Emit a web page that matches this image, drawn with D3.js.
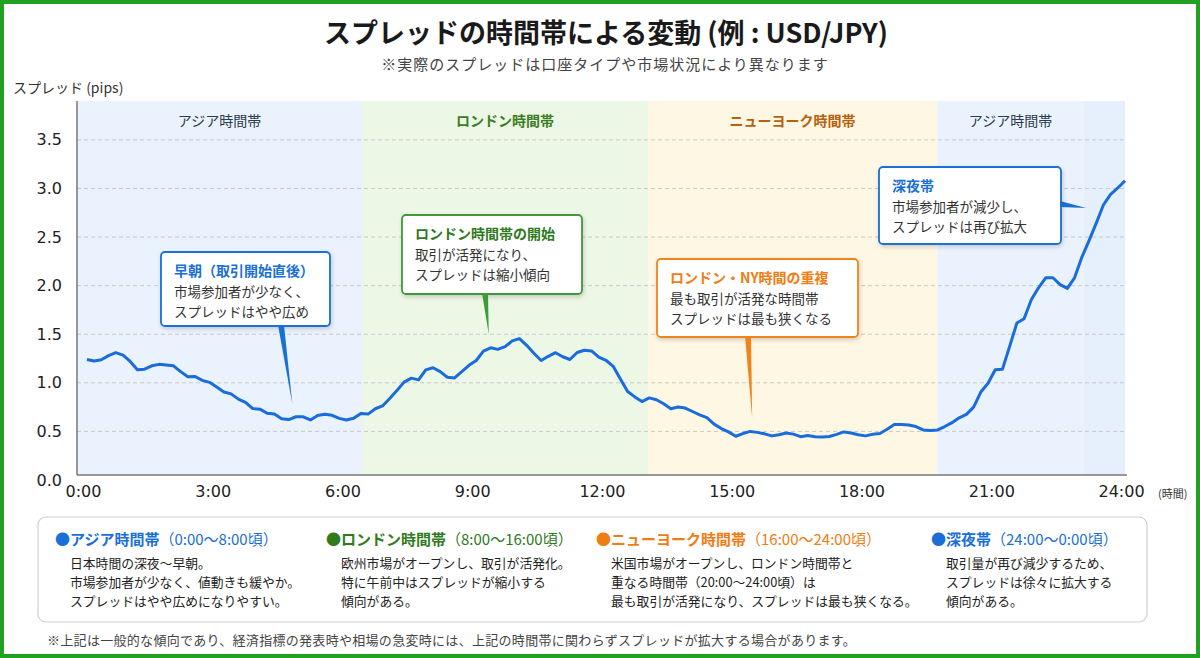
<!DOCTYPE html>
<html>
<head>
<meta charset="utf-8">
<title>スプレッドの時間帯による変動</title>
<script src="https://cdn.jsdelivr.net/npm/d3@7"></script>
<style>
body { margin: 0; background: #fff; }
svg { display: block; font-family: "Noto Sans CJK JP", "Noto Sans", sans-serif; }
.tick text { font-family: "DejaVu Sans", sans-serif; font-size: 16px; fill: #222; }
</style>
</head>
<body>
<script>
// spread every 10 minutes, 0:00 .. 24:00
var spread = [
  1.24, 1.225, 1.238, 1.28, 1.31, 1.285, 1.22, 1.135, 1.14, 1.175, 1.19, 1.183,
  1.175, 1.115, 1.062, 1.065, 1.025, 1.005, 0.957, 0.905, 0.886, 0.832, 0.80, 0.735,
  0.729, 0.687, 0.678, 0.63, 0.622, 0.651, 0.65, 0.618, 0.664, 0.677, 0.666, 0.634,
  0.617, 0.635, 0.685, 0.678, 0.733, 0.762, 0.838, 0.92, 1.007, 1.048, 1.03, 1.133,
  1.155, 1.115, 1.057, 1.05, 1.115, 1.18, 1.23, 1.327, 1.36, 1.344, 1.372, 1.431,
  1.455, 1.386, 1.305, 1.23, 1.273, 1.31, 1.268, 1.24, 1.312, 1.335, 1.328, 1.265,
  1.232, 1.17, 1.04, 0.91, 0.855, 0.807, 0.845, 0.826, 0.785, 0.734, 0.752, 0.74,
  0.705, 0.67, 0.642, 0.575, 0.529, 0.495, 0.45, 0.478, 0.50, 0.49, 0.475, 0.454,
  0.466, 0.484, 0.472, 0.446, 0.457, 0.445, 0.443, 0.448, 0.47, 0.495, 0.483, 0.465,
  0.454, 0.47, 0.479, 0.522, 0.57, 0.57, 0.566, 0.55, 0.515, 0.51, 0.515, 0.55,
  0.59, 0.64, 0.675, 0.75, 0.905, 0.995, 1.135, 1.14, 1.375, 1.615, 1.66, 1.855,
  1.978, 2.081, 2.081, 2.01, 1.972, 2.08, 2.29, 2.46, 2.64, 2.83, 2.94, 3.005, 3.08
];
var hours = spread.map(function(d, i) { return i / 6; });

var xTicks = [0, 3, 6, 9, 12, 15, 18, 21, 24];
var yTicks = [0, 0.5, 1.0, 1.5, 2.0, 2.5, 3.0, 3.5];

var bandNames = ["アジア時間帯", "ロンドン時間帯", "ニューヨーク時間帯", "アジア時間帯", ""];
var bandStart = [-0.23, 6.36, 12.97, 19.66, 23.05];
var bandEnd   = [6.36, 12.97, 19.66, 23.05, 24];
var bandKind  = ["asia", "london", "ny", "asia", "night"];

var noteTitles = ["早朝（取引開始直後）", "ロンドン時間帯の開始", "ロンドン・NY時間の重複", "深夜帯"];
var noteLines = [
  ["市場参加者が少なく、", "スプレッドはやや広め"],
  ["取引が活発になり、", "スプレッドは縮小傾向"],
  ["最も取引が活発な時間帯", "スプレッドは最も狭くなる"],
  ["市場参加者が減少し、", "スプレッドは再び拡大"]
];
var noteHour  = [4.75, 9.29, 15.38, 23.1];
var noteValue = [0.78, 1.50, 0.64, 2.80];
var noteKind  = ["asia", "london", "ny", "asia"];

var legendTitles = ["アジア時間帯", "ロンドン時間帯", "ニューヨーク時間帯", "深夜帯"];
var legendPeriods = ["（0:00〜8:00頃）", "（8:00〜16:00頃）", "（16:00〜24:00頃）", "（24:00〜0:00頃）"];
var legendLines = [
  ["日本時間の深夜〜早朝。", "市場参加者が少なく、値動きも緩やか。", "スプレッドはやや広めになりやすい。"],
  ["欧州市場がオープンし、取引が活発化。", "特に午前中はスプレッドが縮小する", "傾向がある。"],
  ["米国市場がオープンし、ロンドン時間帯と", "重なる時間帯（20:00〜24:00頃）は", "最も取引が活発になり、スプレッドは最も狭くなる。"],
  ["取引量が再び減少するため、", "スプレッドは徐々に拡大する", "傾向がある。"]
];
var legendKind = ["asia", "london", "ny", "asia"];

// styles
var bandFill  = { asia: "#eaf3fd", london: "#edf7e6", ny: "#fef7e3", night: "#e6f0fc" };
var bandText  = { asia: "#2b3a4c", london: "#3b7d23", ny: "#b5620e", night: "#2b3a4c" };
var accent    = { asia: "#1a6fd6", london: "#3f9a3a", ny: "#f0841c" };
var noteTitleColor = { asia: "#1a6fd6", london: "#2f7a1d", ny: "#f07c12" };
var legendColor = { asia: "#1a6fd6", london: "#2f7a1d", ny: "#f07c12" };

var width = 1200, height = 658;
var plotLeft = 77, plotRight = 1125, plotTop = 101, plotBottom = 475;

var svg = d3.select("body").append("svg")
    .attr("width", width)
    .attr("height", height);

var defs = svg.append("defs");
var sh = defs.append("filter").attr("id", "shadow").attr("x", "-10%").attr("y", "-10%").attr("width", "130%").attr("height", "140%");
sh.append("feDropShadow").attr("dx", 1).attr("dy", 2).attr("stdDeviation", 2).attr("flood-color", "#000").attr("flood-opacity", 0.18);

// outer frame
svg.append("rect").attr("x", 2).attr("y", 2).attr("width", width - 4).attr("height", height - 4)
    .attr("fill", "#fff").attr("stroke", "#22a022").attr("stroke-width", 4);

var x = d3.scaleLinear().domain([-0.23, 24]).range([plotLeft, plotRight]);
var y = d3.scaleLinear().domain([0, 3.9]).range([480, 101]);

// title
svg.append("text").attr("x", 606).attr("y", 43).attr("text-anchor", "middle")
    .style("font-size", "27px").style("font-weight", "bold").attr("fill", "#1a1a1a")
    .text("スプレッドの時間帯による変動 (例 : USD/JPY)");
svg.append("text").attr("x", 605).attr("y", 70).attr("text-anchor", "middle")
    .style("font-size", "15px").style("letter-spacing", "1px").attr("fill", "#444")
    .text("※実際のスプレッドは口座タイプや市場状況により異なります");
svg.append("text").attr("x", 13).attr("y", 93)
    .style("font-size", "14px").attr("fill", "#333").text("スプレッド (pips)");

// bands
var bands = bandNames.map(function(n, i) { return { name: n, s: bandStart[i], e: bandEnd[i], k: bandKind[i] }; });
svg.append("g").selectAll("rect").data(bands).enter().append("rect")
    .attr("x", function(d) { return x(d.s); })
    .attr("y", plotTop)
    .attr("width", function(d) { return x(d.e) - x(d.s); })
    .attr("height", plotBottom - plotTop)
    .attr("fill", function(d) { return bandFill[d.k]; });
svg.append("g").selectAll("text").data(bands.filter(function(d) { return d.name; })).enter().append("text")
    .attr("x", function(d) { return (x(d.s) + x(d.e)) / 2; })
    .attr("y", 126)
    .attr("text-anchor", "middle")
    .style("font-size", "14px")
    .style("font-weight", function(d) { return d.k == "asia" ? "normal" : "bold"; })
    .attr("fill", function(d) { return bandText[d.k]; })
    .text(function(d) { return d.name; });

// grid
svg.append("g").selectAll("line").data(yTicks.filter(function(v) { return v > 0; })).enter().append("line")
    .attr("x1", plotLeft).attr("x2", plotRight)
    .attr("y1", function(d) { return y(d); }).attr("y2", function(d) { return y(d); })
    .attr("stroke", "#c8c8c8").attr("stroke-dasharray", "4,3").attr("stroke-width", 1);

// axes
var yAxis = svg.append("g").attr("transform", "translate(" + plotLeft + ",0)")
    .call(d3.axisLeft(y).tickValues(yTicks).tickFormat(d3.format(".1f")).tickSize(0).tickPadding(15));
yAxis.select(".domain").remove();
var xAxis = svg.append("g").attr("transform", "translate(-4," + plotBottom + ")")
    .call(d3.axisBottom(x).tickValues(xTicks).tickFormat(function(d) { return d + ":00"; }).tickSize(0).tickPadding(11));
xAxis.select(".domain").remove();

svg.append("line").attr("x1", plotLeft).attr("x2", plotLeft).attr("y1", plotTop).attr("y2", plotBottom)
    .attr("stroke", "#777").attr("stroke-width", 1.5);
svg.append("line").attr("x1", plotLeft).attr("x2", plotRight + 2).attr("y1", plotBottom).attr("y2", plotBottom)
    .attr("stroke", "#777").attr("stroke-width", 1.5);
svg.append("text").attr("x", 1158).attr("y", 498).style("font-size", "11px").attr("fill", "#333").text("(時間)");

// spread line
var line = d3.line().x(function(d, i) { return x(hours[i]); }).y(function(d) { return y(d); });
svg.append("path").datum(spread)
    .attr("d", line)
    .attr("fill", "none")
    .attr("stroke", "#1a6cdc")
    .attr("stroke-width", 3)
    .attr("stroke-linejoin", "round");

// annotations
var boxes = [
  { x: 161, y: 252, w: 169, h: 74, side: "bottom", base: 281 },
  { x: 402, y: 215, w: 180, h: 79, side: "bottom", base: 485 },
  { x: 657, y: 259, w: 201, h: 78, side: "bottom", base: 748 },
  { x: 879, y: 167, w: 182, h: 77, side: "right", base: 204 }
];
noteTitles.forEach(function(t, i) {
  var b = boxes[i], k = noteKind[i], c = accent[k];
  var tx = x(noteHour[i]), ty = y(noteValue[i]);
  var g = svg.append("g");
  var pts;
  if (b.side == "bottom") pts = [[b.base - 3, b.y + b.h - 1], [b.base + 3, b.y + b.h - 1], [tx, ty]];
  else pts = [[b.x + b.w - 1, b.base - 3], [b.x + b.w - 1, b.base + 3], [tx, ty]];
  g.append("rect").attr("x", b.x).attr("y", b.y).attr("width", b.w).attr("height", b.h).attr("rx", 4)
      .attr("fill", "#fff").attr("stroke", c).attr("stroke-width", 1.8).attr("filter", "url(#shadow)");
  g.append("path").attr("d", "M" + pts.join("L") + "Z").attr("fill", c);
  g.append("text").attr("x", b.x + 13).attr("y", b.y + 24)
      .style("font-size", "14px").style("font-weight", "bold").attr("fill", noteTitleColor[k]).text(t);
  noteLines[i].forEach(function(l, j) {
    g.append("text").attr("x", b.x + 13).attr("y", b.y + 45 + j * 20)
        .style("font-size", "13.5px").attr("fill", "#333").text(l);
  });
});

// legend
svg.append("rect").attr("x", 38).attr("y", 517).attr("width", 1109).attr("height", 105).attr("rx", 8)
    .attr("fill", "#fff").attr("stroke", "#cfcfcf").attr("stroke-width", 1.2);
var legX = [55, 326, 596, 931];
legendTitles.forEach(function(t, i) {
  var c = legendColor[legendKind[i]];
  var tt = svg.append("text").attr("x", legX[i]).attr("y", 545).style("font-size", "15px").attr("fill", c);
  tt.append("tspan").style("font-weight", "bold").text("●" + t);
  tt.append("tspan").text(legendPeriods[i]);
  legendLines[i].forEach(function(l, j) {
    svg.append("text").attr("x", legX[i] + 15).attr("y", 568 + j * 18.8)
        .style("font-size", "12.8px").attr("fill", "#222").text(l);
  });
});

svg.append("text").attr("x", 47).attr("y", 645)
    .style("font-size", "13px").style("letter-spacing", "0.3px").attr("fill", "#444")
    .text("※上記は一般的な傾向であり、経済指標の発表時や相場の急変時には、上記の時間帯に関わらずスプレッドが拡大する場合があります。");
</script>
</body>
</html>
